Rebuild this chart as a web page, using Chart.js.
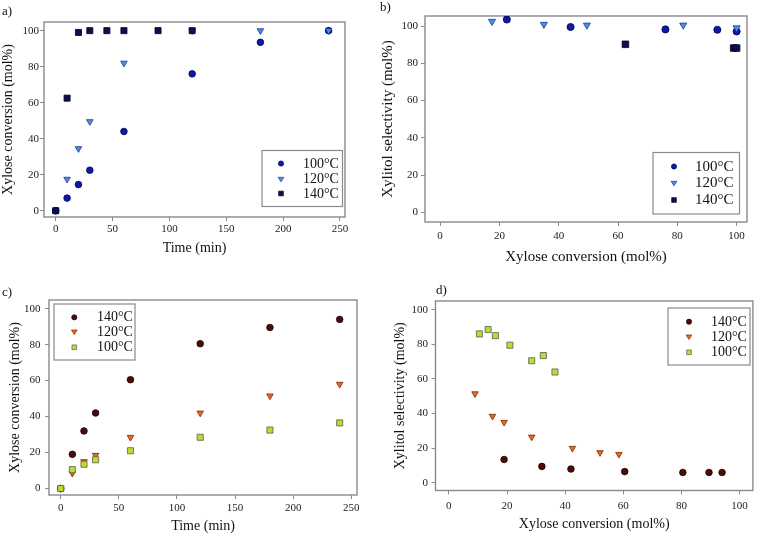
<!DOCTYPE html>
<html><head><meta charset="utf-8">
<script src="https://cdn.jsdelivr.net/npm/chart.js@4.4.1/dist/chart.umd.min.js"></script>
<style>
body{margin:0;background:#fff;width:758px;height:536px;position:relative;overflow:hidden}
canvas{position:absolute}
</style></head><body>
<canvas id="ca" width="379" height="268" style="left:0;top:0"></canvas>
<canvas id="cb" width="379" height="268" style="left:379px;top:0"></canvas>
<canvas id="cc" width="379" height="268" style="left:0;top:268px"></canvas>
<canvas id="cd" width="379" height="268" style="left:379px;top:268px"></canvas>
<script>
// ---------- data ----------
// Panel a: xylose conversion vs time (blue set)
const aTime100 = [0, 10, 20, 30, 60, 120, 180, 240];
const aConv100 = [0, 7, 14.5, 22.5, 44, 76, 93.5, 100];
const aTime120 = [0, 10, 20, 30, 60, 120, 180, 240];
const aConv120 = [0, 17.5, 34.5, 49.5, 82, 100, 100, 100];
const aTime140 = [0, 10, 20, 30, 45, 60, 90, 120];
const aConv140 = [0, 62.5, 99, 100, 100, 100, 100, 100];
// Panel b: xylitol selectivity vs conversion (blue set)
const bConv100 = [22.5, 44, 76, 93.5, 100];
const bSel100  = [103.5, 99.5, 98.2, 98, 97.1];
const bConv120 = [17.5, 35, 49.5, 82, 100];
const bSel120  = [102.5, 100.9, 100.5, 100.5, 99];
const bConv140 = [62.5, 99, 100];
const bSel140  = [90.2, 88.2, 88.2];
// Panel c: xylose conversion vs time (red/green set)
const cTime    = [0, 10, 20, 30, 60, 120, 180, 240];
const cConv140 = [0, 19, 32, 42, 60.5, 80.5, 89.5, 94];
const cConv120 = [0, 8.5, 15, 18.5, 28.5, 42, 51.5, 58];
const cConv100 = [0, 10.5, 13.5, 16, 21, 28.5, 32.5, 36.5];
// Panel d: xylitol selectivity vs conversion (red/green set)
const dConv140 = [19, 32, 42, 60.5, 80.5, 89.5, 94];
const dSel140  = [13.5, 9.5, 8, 6.5, 6, 6, 6];
const dConv120 = [9, 15, 19, 28.5, 42.5, 52, 58.5];
const dSel120  = [51.5, 38.5, 35, 26.5, 20, 17.5, 16.5];
const dConv100 = [10.5, 13.5, 16, 21, 28.5, 32.5, 36.5];
const dSel100  = [86, 88.5, 85, 79.5, 70.5, 73.5, 64];
// tick labels
const timeTicks = [0, 50, 100, 150, 200, 250];
const convTicks = [0, 20, 40, 60, 80, 100];
const pctTicks  = [0, 20, 40, 60, 80, 100];
// legend labels
const tempLabels = ['100°C', '120°C', '140°C'];
const tempLabelsRev = ['140°C', '120°C', '100°C'];

// ---------- styles ----------
const FONT = "'Liberation Serif', 'Times New Roman', serif";
const BLUE100 = {fill: '#0b1aa8', stroke: '#00004a', style: 'circle'};
const BLUE120 = {fill: '#4d8fe6', stroke: '#1a3a90', style: 'triangle'};
const BLUE140 = {fill: '#0a0f4f', stroke: '#000020', style: 'rect'};
const RED140  = {fill: '#4b0b0b', stroke: '#1a0000', style: 'circle'};
const ORA120  = {fill: '#f26522', stroke: '#7a2a00', style: 'triangle'};
const GRN100  = {fill: '#b5e02a', stroke: '#5a5a5a', style: 'rect'};

function pts(xs, ys) { return xs.map((x, i) => ({x: x, y: ys[i]})); }

function ds(label, data, st, order, big) {
  const k = big ? 1.08 : 1;
  return {
    label: label, data: data, order: order,
    backgroundColor: st.fill, borderColor: st.stroke, borderWidth: 0.8,
    pointStyle: st.style,
    pointRotation: st.style === 'triangle' ? 180 : 0,
    pointRadius: (st.style === 'rect' ? 4.3 : st.style === 'triangle' ? 3.8 : 3.3) * k
  };
}

function drawMarker(ctx, st, x, y, s) {
  ctx.save();
  ctx.fillStyle = st.fill; ctx.strokeStyle = st.stroke; ctx.lineWidth = 0.7;
  ctx.beginPath();
  if (st.style === 'circle') {
    ctx.arc(x, y, s, 0, Math.PI * 2);
  } else if (st.style === 'rect') {
    ctx.rect(x - s * 0.9, y - s * 0.9, s * 1.8, s * 1.8);
  } else {
    const h = s * 1.1;
    ctx.moveTo(x - h, y - h * 0.6);
    ctx.lineTo(x + h, y - h * 0.6);
    ctx.lineTo(x, y + h * 1.0);
    ctx.closePath();
  }
  ctx.fill(); ctx.stroke();
  ctx.restore();
}

const decor = {
  id: 'decor',
  beforeDatasetsDraw(chart, args, o) {
    const a = chart.chartArea, ctx = chart.ctx;
    ctx.save();
    ctx.strokeStyle = '#8a8a8a'; ctx.lineWidth = 1.4;
    ctx.strokeRect(a.left, a.top, a.right - a.left, a.bottom - a.top);
    ctx.restore();
  },
  afterDraw(chart, args, o) {
    const ctx = chart.ctx;
    // panel label
    ctx.save();
    ctx.fillStyle = '#111'; ctx.font = '13px ' + FONT;
    ctx.textBaseline = 'middle'; ctx.textAlign = 'left';
    ctx.fillText(o.tag, o.tagX, o.tagY);
    // legend
    const L = o.legend;
    ctx.fillStyle = '#fff';
    ctx.fillRect(L.x0, L.y0, L.x1 - L.x0, L.y1 - L.y0);
    ctx.strokeStyle = '#8a8a8a'; ctx.lineWidth = 1.2;
    ctx.strokeRect(L.x0, L.y0, L.x1 - L.x0, L.y1 - L.y0);
    ctx.font = L.size + 'px ' + FONT;
    ctx.fillStyle = '#111';
    L.items.forEach((it, i) => {
      drawMarker(ctx, it.st, L.mx, L.rows[i], 2.6);
      ctx.fillText(it.label, L.tx, L.rows[i] + 0.5);
    });
    ctx.restore();
  }
};

function makePanel(id, p) {
  const W = 379, H = 268;
  const tickFont = {family: FONT, size: 11, weight: 'normal'};
  const titleFont = {family: FONT, size: p.tSize, weight: 'normal'};
  new Chart(document.getElementById(id), {
    type: 'scatter',
    data: {datasets: p.datasets},
    options: {
      responsive: false, animation: false, devicePixelRatio: 1,
      layout: {padding: {left: 0, top: p.area.t, right: W - p.area.r, bottom: 0}},
      plugins: {legend: {display: false}, tooltip: {enabled: false}, decor: p.decor},
      scales: {
        x: {
          type: 'linear', min: p.xr[0], max: p.xr[1],
          afterBuildTicks: s => { s.ticks = p.xt.map(v => ({value: v})); },
          afterFit: s => { s.height = H - p.area.b; },
          grid: {display: true, drawOnChartArea: false, drawTicks: true, tickLength: 4, color: '#8a8a8a'},
          border: {display: false},
          ticks: {font: tickFont, color: '#222', padding: p.xPad, maxRotation: 0, autoSkip: false, callback: v => String(v)},
          title: {display: true, text: p.xTitle, font: titleFont, color: '#111',
                  padding: {top: 0, bottom: p.xTitlePad}}
        },
        y: {
          type: 'linear', min: p.yr[0], max: p.yr[1],
          afterBuildTicks: s => { s.ticks = p.yt.map(v => ({value: v})); },
          afterFit: s => { s.width = p.area.l; },
          grid: {display: true, drawOnChartArea: false, drawTicks: true, tickLength: 4, color: '#8a8a8a'},
          border: {display: false},
          ticks: {font: tickFont, color: '#222', padding: p.yPad, autoSkip: false, callback: v => String(v)},
          title: {display: true, text: p.yTitle, font: titleFont, color: '#111',
                  padding: {top: p.yTitlePad, bottom: 0}}
        }
      }
    },
    plugins: [decor]
  });
}

// Panel a
makePanel('ca', {
  area: {l: 44, t: 22, r: 345, b: 217},
  xr: [-10.3, 254.4], yr: [-3.5, 104.8], xt: timeTicks, yt: pctTicks,
  xTitle: 'Time (min)', yTitle: 'Xylose conversion (mol%)', tSize: 14,
  xPad: 2, yPad: 1, xTitlePad: 11, yTitlePad: 0,
  datasets: [
    ds(tempLabels[0], pts(aTime100, aConv100), BLUE100, 3),
    ds(tempLabels[1], pts(aTime120, aConv120), BLUE120, 2),
    ds(tempLabels[2], pts(aTime140, aConv140), BLUE140, 1)
  ],
  decor: {tag: 'a)', tagX: 2, tagY: 12, legend: {
    x0: 262, y0: 150.5, x1: 342.5, y1: 206.5, mx: 281, tx: 303, size: 14, rows: [163.5, 179, 193.5],
    items: [{st: BLUE100, label: tempLabels[0]}, {st: BLUE120, label: tempLabels[1]}, {st: BLUE140, label: tempLabels[2]}]}}
});

// Panel b
makePanel('cb', {
  area: {l: 46, t: 16, r: 368, b: 222},
  xr: [-5.1, 103.5], yr: [-5.2, 105.4], xt: convTicks, yt: pctTicks,
  xTitle: 'Xylose conversion (mol%)', yTitle: 'Xylitol selectivity (mol%)', tSize: 15,
  xPad: 4, yPad: 3, xTitlePad: 2, yTitlePad: 0,
  datasets: [
    ds(tempLabels[0], pts(bConv100, bSel100), BLUE100, 3, true),
    ds(tempLabels[1], pts(bConv120, bSel120), BLUE120, 2, true),
    ds(tempLabels[2], pts(bConv140, bSel140), BLUE140, 1, true)
  ],
  decor: {tag: 'b)', tagX: 1, tagY: 8, legend: {
    x0: 274, y0: 152.5, x1: 360.5, y1: 214, mx: 295, tx: 316, size: 15, rows: [166.5, 183, 200],
    items: [{st: BLUE100, label: tempLabels[0]}, {st: BLUE120, label: tempLabels[1]}, {st: BLUE140, label: tempLabels[2]}]}}
});

// Panel c
makePanel('cc', {
  area: {l: 49, t: 32, r: 357, b: 227},
  xr: [-10.1, 254.9], yr: [-3.6, 104.8], xt: timeTicks, yt: pctTicks,
  xTitle: 'Time (min)', yTitle: 'Xylose conversion (mol%)', tSize: 14,
  xPad: 2.5, yPad: 4.5, xTitlePad: 1.5, yTitlePad: 6.5,
  datasets: [
    ds(tempLabelsRev[0], pts(cTime, cConv140), RED140, 3),
    ds(tempLabelsRev[1], pts(cTime, cConv120), ORA120, 2),
    ds(tempLabelsRev[2], pts(cTime, cConv100), GRN100, 1)
  ],
  decor: {tag: 'c)', tagX: 2, tagY: 25, legend: {
    x0: 54, y0: 36, x1: 135, y1: 92, mx: 74.3, tx: 97, size: 14, rows: [49.3, 63.7, 79.3],
    items: [{st: RED140, label: tempLabelsRev[0]}, {st: ORA120, label: tempLabelsRev[1]}, {st: GRN100, label: tempLabelsRev[2]}]}}
});

// Panel d
makePanel('cd', {
  area: {l: 56.5, t: 33, r: 376.5, b: 222.5},
  xr: [-4.6, 104.6], yr: [-4.4, 105], xt: convTicks, yt: pctTicks,
  xTitle: 'Xylose conversion (mol%)', yTitle: 'Xylitol selectivity (mol%)', tSize: 14,
  xPad: 5, yPad: 3.5, xTitlePad: 3, yTitlePad: 13.3,
  datasets: [
    ds(tempLabelsRev[0], pts(dConv140, dSel140), RED140, 3),
    ds(tempLabelsRev[1], pts(dConv120, dSel120), ORA120, 2),
    ds(tempLabelsRev[2], pts(dConv100, dSel100), GRN100, 1)
  ],
  decor: {tag: 'd)', tagX: 57, tagY: 23, legend: {
    x0: 289, y0: 40, x1: 371, y1: 97, mx: 310, tx: 332, size: 14, rows: [53.7, 68.7, 84.3],
    items: [{st: RED140, label: tempLabelsRev[0]}, {st: ORA120, label: tempLabelsRev[1]}, {st: GRN100, label: tempLabelsRev[2]}]}}
});
</script>
</body></html>
